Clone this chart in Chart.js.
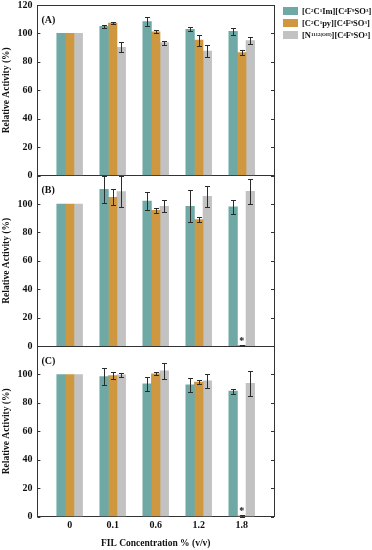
<!DOCTYPE html>
<html lang="en">
<head>
<meta charset="UTF-8">
<title>Relative Activity</title>
<script src="https://cdn.jsdelivr.net/npm/chart.js"></script>
<style>
  body { margin: 0; background: #fff; }
  .wrap { position: relative; width: 372px; height: 550px; }
  #leyenda { position: absolute; left: 283px; top: 4.5px; font: bold 8.5px 'Liberation Serif', serif; color: #111; }
  #leyenda div { display: flex; align-items: center; height: 12.3px; white-space: nowrap; }
  #leyenda .box { width: 15px; height: 8px; margin-right: 4px; flex: none; }
  #leyenda sub { font-size: 5px; vertical-align: -2px; line-height: 0; }
</style>
</head>
<body>
<div class="wrap">
  <canvas id="grafico" width="372" height="550"></canvas>
  <div id="leyenda"></div>
</div>
<script>
const categorias = ['0', '0.1', '0.6', '1.2', '1.8'];
const series = [
  '[C<sub>2</sub>C<sub>1</sub>Im][C<sub>4</sub>F<sub>9</sub>SO<sub>3</sub>]',
  '[C<sub>2</sub>C<sub>1</sub>py][C<sub>4</sub>F<sub>9</sub>SO<sub>3</sub>]',
  '[N<sub>1112(OH)</sub>][C<sub>4</sub>F<sub>9</sub>SO<sub>3</sub>]'
];
const colores = ['#6fa9a6', '#cf9840', '#c2c2c2'];
const paneles = ['A', 'B', 'C'];
const yTicks = [0, 20, 40, 60, 80, 100, 120];

// (A)
const aIm = [100, 105, 108.4, 102.8, 101.5];
const aPy = [100, 107.2, 101.2, 95.3, 86.5];
const aN = [100, 90.3, 93.5, 87.6, 94.9];
const aImErr = [0, 1.2, 3.3, 1.4, 2.3];
const aPyErr = [0, 0.5, 1.2, 3.9, 1.9];
const aNErr = [0, 3.7, 1.3, 4.2, 2.6];

// (B)
const bIm = [100, 110.3, 102, 98.4, 97.9];
const bPy = [100, 104.7, 95.6, 89, 0.5];
const bN = [100, 108.7, 98.4, 105.4, 108.9];
const bImErr = [0, 9.5, 6.4, 11.1, 4.9];
const bPyErr = [0, 5.6, 1.9, 1.75, 0.5];
const bNErr = [0, 11, 4.2, 7.4, 9];

// (C)
const cIm = [100, 98.5, 93.4, 92.7, 88.3];
const cPy = [100, 99.2, 100.5, 94.6, 0.5];
const cN = [100, 99.8, 102.5, 95.5, 93.7];
const cImErr = [0, 6.2, 4.9, 4.7, 1.8];
const cPyErr = [0, 2.5, 1, 1.2, 0.5];
const cNErr = [0, 1.5, 5.4, 4.8, 8.6];

// bars marked with * (panel, serie, categoria)
const asteriscos = [['B', 1, 4], ['C', 1, 4]];

const valores = [[aIm, aPy, aN], [bIm, bPy, bN], [cIm, cPy, cN]];
const errores = [[aImErr, aPyErr, aNErr], [bImErr, bPyErr, bNErr], [cImErr, cPyErr, cNErr]];

const familia = "'Liberation Serif', 'Times New Roman', serif";
const fuente = size => ({ family: familia, size: size, weight: 'bold' });

const datasets = [];
paneles.forEach((p, k) => {
  series.forEach((s, i) => {
    datasets.push({
      label: s.replace(/<[^>]+>/g, ''),
      data: valores[k][i].map((v, j) => ({ x: j, y: v })),
      errores: errores[k][i],
      yAxisID: 'y' + p,
      stack: 's' + i,
      backgroundColor: colores[i],
      borderWidth: 0,
      barThickness: 8.6
    });
  });
});

function ejeY(p) {
  return {
    type: 'linear', position: 'left', stack: 'paneles', stackWeight: 1, stacked: false,
    min: 0, max: 120,
    afterBuildTicks: s => { s.ticks = yTicks.map(v => ({ value: v })); },
    afterFit: s => { s.paddingTop = 5; s.paddingBottom = 5; },
    ticks: { padding: 5, color: '#111', font: fuente(10), callback: v => (v === 120 && p !== 'A') ? '' : v },
    grid: {
      drawTicks: false,
      color: c => (c.tick && (c.tick.value === 0 || c.tick.value === 120)) ? '#333' : 'rgba(0,0,0,0)'
    },
    border: { display: true, color: '#333' },
    title: { display: true, text: 'Relative Activity (%)', color: '#111', font: fuente(9.5), padding: { top: 1, bottom: 0 } }
  };
}

const linea = (ctx, x1, y1, x2, y2) => { ctx.moveTo(x1, y1); ctx.lineTo(x2, y2); };

const extras = {
  id: 'extras',
  afterDatasetsDraw(chart) {
    const ctx = chart.ctx;
    const area = chart.chartArea;
    ctx.save();
    ctx.strokeStyle = '#2b2b2b';
    ctx.lineWidth = 1;
    ctx.beginPath();
    chart.data.datasets.forEach((ds, i) => {
      const y = chart.scales[ds.yAxisID];
      chart.getDatasetMeta(i).data.forEach((bar, j) => {
        const e = ds.errores[j];
        if (!e) return;
        const v = ds.data[j].y;
        const x = Math.round(bar.x) + 0.5;
        const t = Math.round(y.getPixelForValue(v + e)) + 0.5;
        const b = Math.round(y.getPixelForValue(v - e)) + 0.5;
        linea(ctx, x, t, x, b);
        linea(ctx, x - 2.5, t, x + 2.5, t);
        linea(ctx, x - 2.5, b, x + 2.5, b);
      });
    });
    ctx.stroke();

    // inward ticks and right frame
    ctx.strokeStyle = '#333';
    ctx.beginPath();
    paneles.forEach(p => {
      const s = chart.scales['y' + p];
      s.ticks.forEach(t => {
        const py = Math.round(s.getPixelForValue(t.value)) + 0.5;
        linea(ctx, area.left, py, area.left + 3, py);
        linea(ctx, area.right - 3, py, area.right, py);
      });
    });
    const rx = Math.round(area.right) + 0.5;
    linea(ctx, rx, area.top, rx, area.bottom);
    ctx.stroke();

    ctx.fillStyle = '#111';
    ctx.font = 'bold 10px ' + familia;
    ctx.textBaseline = 'middle';
    paneles.forEach(p => {
      const s = chart.scales['y' + p];
      ctx.fillText('(' + p + ')', area.left + 4, s.top + 15);
    });

    ctx.textAlign = 'center';
    ctx.textBaseline = 'alphabetic';
    asteriscos.forEach(([p, i, j]) => {
      const k = paneles.indexOf(p);
      const idx = k * series.length + i;
      const ds = chart.data.datasets[idx];
      const bar = chart.getDatasetMeta(idx).data[j];
      const s = chart.scales[ds.yAxisID];
      const top = s.getPixelForValue(ds.data[j].y + (ds.errores[j] || 0));
      ctx.fillText('*', bar.x, top - 1);
    });
    ctx.restore();
  }
};

new Chart(document.getElementById('grafico'), {
  type: 'bar',
  data: { datasets: datasets },
  options: {
    responsive: false,
    animation: false,
    layout: { padding: { right: 98, left: 0, top: 0, bottom: 0 } },
    plugins: { legend: { display: false } },
    scales: {
      x: {
        type: 'linear', min: -0.75, max: 4.75, offset: false,
        afterBuildTicks: s => { s.ticks = categorias.map((c, i) => ({ value: i })); },
        ticks: { autoSkip: false, maxRotation: 0, padding: 3, color: '#111', font: fuente(10), callback: v => categorias[v] },
        grid: { display: false, drawTicks: false },
        border: { display: true, color: '#333' },
        title: { display: true, text: 'FIL Concentration % (v/v)', color: '#111', font: fuente(9.5), padding: { top: 3, bottom: 1 } }
      },
      yC: ejeY('C'),
      yB: ejeY('B'),
      yA: ejeY('A')
    }
  },
  plugins: [extras]
});

document.getElementById('leyenda').innerHTML = series.map((s, i) =>
  `<div><span class="box" style="background:${colores[i]}"></span>${s}</div>`).join('');
</script>
</body>
</html>
